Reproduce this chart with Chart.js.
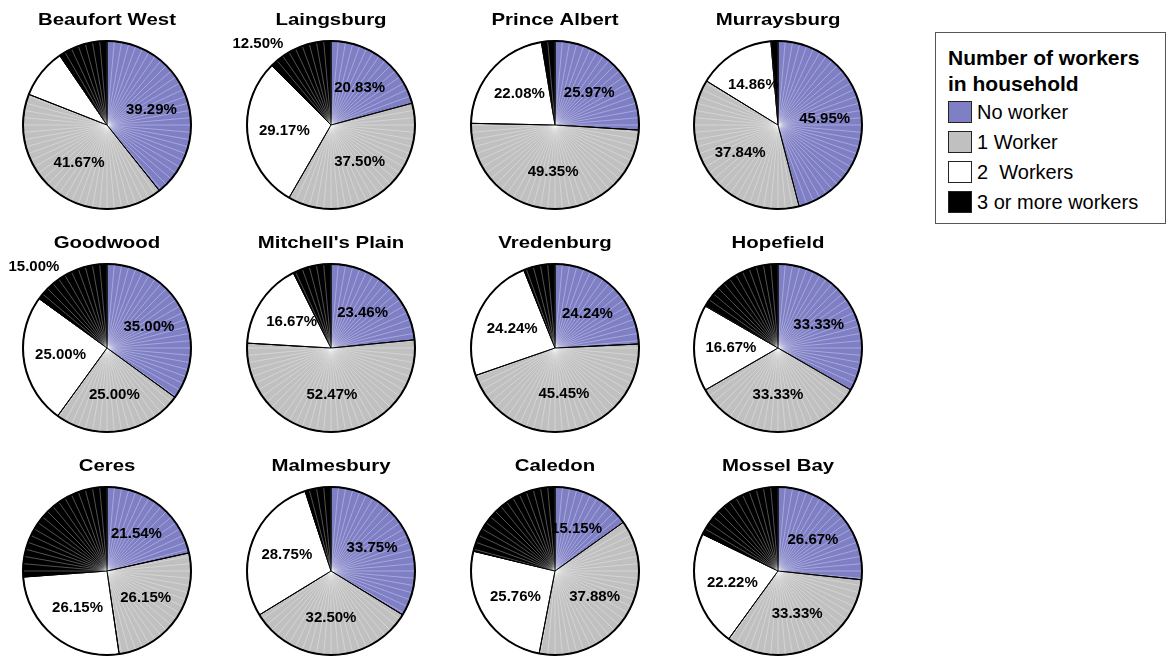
<!DOCTYPE html>
<html>
<head>
<meta charset="utf-8">
<script src="https://cdn.jsdelivr.net/npm/chart.js@4.4.1/dist/chart.umd.min.js"></script>
<style>
    body {
        margin: 0;
        background: #fff;
        width: 1172px;
        height: 657px;
        position: relative;
        overflow: hidden;
        font-family: "Liberation Sans", Arial, sans-serif;
    }
    .pie { position: absolute; }
    .legend {
        position: absolute;
        left: 935px;
        top: 32px;
        width: 231px;
        height: 192px;
        box-sizing: border-box;
        border: 1px solid #555;
        padding: 12px 0 0 12px;
    }
    .legend h3 {
        margin: 0;
        font-size: 21px;
        line-height: 26px;
        font-weight: bold;
    }
    .legend .item {
        height: 30px;
        display: flex;
        align-items: center;
        font-size: 20px;
    }
    .legend .swatch {
        width: 24px;
        height: 22px;
        box-sizing: border-box;
        border: 1.5px solid #222;
        margin-right: 5px;
    }
</style>
</head>
<body>

<div class="legend" id="legend">
    <h3>Number of workers<br>in household</h3>
</div>

<script>
// Towns, in reading order (row by row)
const towns = [
    "Beaufort West", "Laingsburg", "Prince Albert", "Murraysburg",
    "Goodwood", "Mitchell's Plain", "Vredenburg", "Hopefield",
    "Ceres", "Malmesbury", "Caledon", "Mossel Bay"
];

const seriesNames = ["No worker", "1 Worker", "2  Workers", "3 or more workers"];

// Share of households (%) per town
const noWorker   = [39.29, 20.83, 25.97, 45.95, 35.00, 23.46, 24.24, 33.33, 21.54, 33.75, 15.15, 26.67];
const oneWorker  = [41.67, 37.50, 49.35, 37.84, 25.00, 52.47, 45.45, 33.33, 26.15, 32.50, 37.88, 33.33];
const twoWorkers = [ 9.52, 29.17, 22.08, 14.86, 25.00, 16.67, 24.24, 16.67, 26.15, 28.75, 25.76, 22.22];
const threePlus  = [ 9.52, 12.50,  2.60,  1.35, 15.00,  7.40,  6.06, 16.67, 26.15,  5.00, 21.21, 17.78];

// Which slice labels get printed: "in" = on the slice, "out" = pulled outside, null = none
const labelModes = [
    ["in", "in", null, null], ["in", "in", "in", "out"], ["in", "in", "in", null], ["in", "in", "in", null],
    ["in", "in", "in", "out"], ["in", "in", "in", null], ["in", "in", "in", null], ["in", "in", "in", null],
    ["in", "in", "in", null], ["in", "in", "in", null], ["in", "in", "in", null], ["in", "in", "in", null]
];

const sliceColors = ["#7f7fc6", "#c0c0c0", "#ffffff", "#000000"];

// grid placement of the pie centres
const colX = [107, 331, 555, 778];
const rowY = [125, 348, 571];
const PIE_R = 84;
const CW = 224, CH = 236, PAD_TOP = 16;

function buildLegend() {
    const legend = document.getElementById("legend");
    seriesNames.forEach((name, i) => {
        legend.innerHTML += `
            <div class="item">
                <span class="swatch" style="background:${sliceColors[i]}"></span>${name.replace(/ /g, "&nbsp;")}
            </div>`;
    });
}

// draws the facet lines, the black outline, the town name and the % labels
function makeDecor(title, modes) {
    return {
        id: "pieDecor",
        afterDatasetsDraw(chart) {
            const ctx = chart.ctx;
            const arcs = chart.getDatasetMeta(0).data;
            const {x, y, outerRadius: r} = arcs[0];

            // faint radial facets
            ctx.save();
            ctx.beginPath();
            ctx.arc(x, y, r, 0, Math.PI * 2);
            ctx.clip();
            ctx.strokeStyle = "rgba(255,255,255,0.4)";
            ctx.lineWidth = 0.8;
            for (let a = 0; a < 360; a += 5) {
                const t = a * Math.PI / 180;
                ctx.beginPath();
                ctx.moveTo(x, y);
                ctx.lineTo(x + Math.cos(t) * r, y + Math.sin(t) * r);
                ctx.stroke();
            }
            ctx.restore();

            // slice edges and rim
            ctx.save();
            ctx.strokeStyle = "#000";
            ctx.lineWidth = 1;
            arcs.forEach(arc => {
                if (arc.endAngle - arc.startAngle <= 0) return;
                ctx.beginPath();
                ctx.moveTo(x, y);
                ctx.lineTo(x + Math.cos(arc.startAngle) * r, y + Math.sin(arc.startAngle) * r);
                ctx.stroke();
            });
            ctx.lineWidth = 2;
            ctx.beginPath();
            ctx.arc(x, y, r, 0, Math.PI * 2);
            ctx.stroke();
            ctx.restore();
        },
        afterDraw(chart) {
            const ctx = chart.ctx;
            const arcs = chart.getDatasetMeta(0).data;
            const values = chart.data.datasets[0].data;
            const {x, y, outerRadius: r} = arcs[0];

            ctx.save();
            ctx.fillStyle = "#000";
            ctx.textAlign = "center";

            // town name, a little stretched like the original
            ctx.font = 'bold 17px "Liberation Sans", Arial, sans-serif';
            ctx.textBaseline = "alphabetic";
            ctx.translate(x, y - r - 16);
            ctx.scale(1.2, 1);
            ctx.fillText(title, 0, 0);
            ctx.setTransform(1, 0, 0, 1, 0, 0);

            ctx.font = 'bold 15px "Liberation Sans", Arial, sans-serif';
            ctx.textBaseline = "middle";
            arcs.forEach((arc, i) => {
                const mode = modes[i];
                if (!mode) return;
                let lx, ly;
                if (mode === "in") {
                    const mid = (arc.startAngle + arc.endAngle) / 2;
                    lx = x + Math.cos(mid) * r * 0.56;
                    ly = y + Math.sin(mid) * r * 0.56;
                } else {
                    const a = -Math.PI / 2 - 42 * Math.PI / 180;
                    lx = x + Math.cos(a) * r * 1.3;
                    ly = y + Math.sin(a) * r * 1.3;
                }
                ctx.fillText(values[i].toFixed(2) + "%", lx, ly);
            });
            ctx.restore();
        }
    };
}

function loadPie(i) {
    const cx = colX[i % 4];
    const cy = rowY[Math.floor(i / 4)];

    const canvas = document.createElement("canvas");
    canvas.className = "pie";
    canvas.width = CW;
    canvas.height = CH;
    canvas.style.left = (cx - CW / 2) + "px";
    canvas.style.top = (cy - (PAD_TOP + (CH - PAD_TOP) / 2)) + "px";
    document.body.appendChild(canvas);

    new Chart(canvas.getContext("2d"), {
        type: "pie",
        data: {
            labels: seriesNames,
            datasets: [{
                data: [noWorker[i], oneWorker[i], twoWorkers[i], threePlus[i]],
                backgroundColor: sliceColors,
                borderColor: "#000",
                borderWidth: 1
            }]
        },
        options: {
            responsive: false,
            animation: false,
            events: [],
            radius: PIE_R,
            layout: { padding: { top: PAD_TOP } },
            plugins: {
                legend: { display: false },
                tooltip: { enabled: false }
            }
        },
        plugins: [makeDecor(towns[i], labelModes[i])]
    });
}

buildLegend();
towns.forEach((t, i) => loadPie(i));
</script>
</body>
</html>
